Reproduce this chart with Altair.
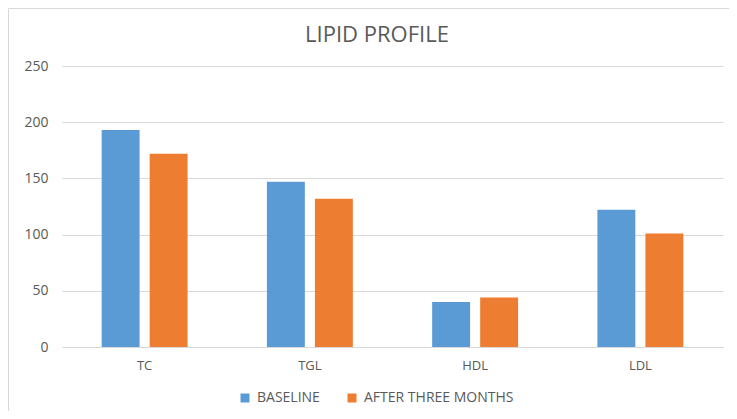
import altair as alt
import pandas as pd

categories = ["TC", "TGL", "HDL", "LDL"]
series = ["BASELINE", "AFTER THREE MONTHS"]
baseline = [193, 147, 40, 122]
after_three_months = [172, 132, 44, 101]
colors = ["#5B9BD5", "#ED7D31"]
y_ticks = [0, 50, 100, 150, 200, 250]
title_text = "LIPID PROFILE"

rows = []
for c, b, a in zip(categories, baseline, after_three_months):
    rows.append({"test": c, "series": series[0], "value": b})
    rows.append({"test": c, "series": series[1], "value": a})
df = pd.DataFrame(rows)

FONT = "Open Sans"
GRAY = "#595959"
W, H = 661, 281

bars = alt.Chart(df).mark_bar().encode(
    x=alt.X("test:N", sort=categories,
            scale=alt.Scale(paddingInner=0.48, paddingOuter=0.24),
            axis=alt.Axis(title=None, labelAngle=0, ticks=False, grid=False,
                          domainColor="#D9D9D9",
                          labelPadding=12, labelFontSize=13, labelColor=GRAY, labelFont=FONT)),
    xOffset=alt.XOffset("series:N", sort=series,
                        scale=alt.Scale(paddingInner=0.21, paddingOuter=0)),
    y=alt.Y("value:Q", scale=alt.Scale(domain=[0, 250]),
            axis=alt.Axis(title=None, values=y_ticks, ticks=False, domain=False,
                          gridColor="#D9D9D9", labelPadding=14, labelFontSize=14,
                          labelColor=GRAY, labelFont=FONT)),
    color=alt.Color("series:N", sort=series,
                    scale=alt.Scale(domain=series, range=colors),
                    legend=alt.Legend(orient="none", legendX=176, legendY=325,
                                      direction="horizontal", title=None,
                                      symbolType="square", symbolSize=81,
                                      labelFontSize=14, labelColor=GRAY, labelFont=FONT,
                                      labelOffset=5, columnPadding=25,
                                      symbolStrokeWidth=0)),
)

frame = pd.DataFrame({"k": [0]})
left_border = alt.Chart(frame).mark_rule(color="#D9D9D9", strokeWidth=1).encode(
    x=alt.value(-53.5), y=alt.value(-57.5), y2=alt.value(H + 64))
top_border = alt.Chart(frame).mark_rule(color="#D9D9D9", strokeWidth=1).encode(
    x=alt.value(-53.5), x2=alt.value(W + 6), y=alt.value(-57.5))
title = alt.Chart(frame).mark_text(
    fontSize=22, color=GRAY, font=FONT, align="center", baseline="alphabetic"
).encode(x=alt.value(315), y=alt.value(-24), text=alt.value(title_text))

chart = alt.layer(bars, left_border, top_border, title).properties(
    width=W, height=H,
    autosize=alt.AutoSizeParams(type="none"),
    padding={"left": 54, "top": 58, "right": 6, "bottom": 64},
).configure_view(strokeWidth=0, strokeOpacity=0
).configure_axisX(grid=False
).configure(background="white", style={"cell": {"stroke": "transparent", "strokeWidth": 0}})

chart.save("out.html", embed_options={"renderer": "svg", "actions": False})
